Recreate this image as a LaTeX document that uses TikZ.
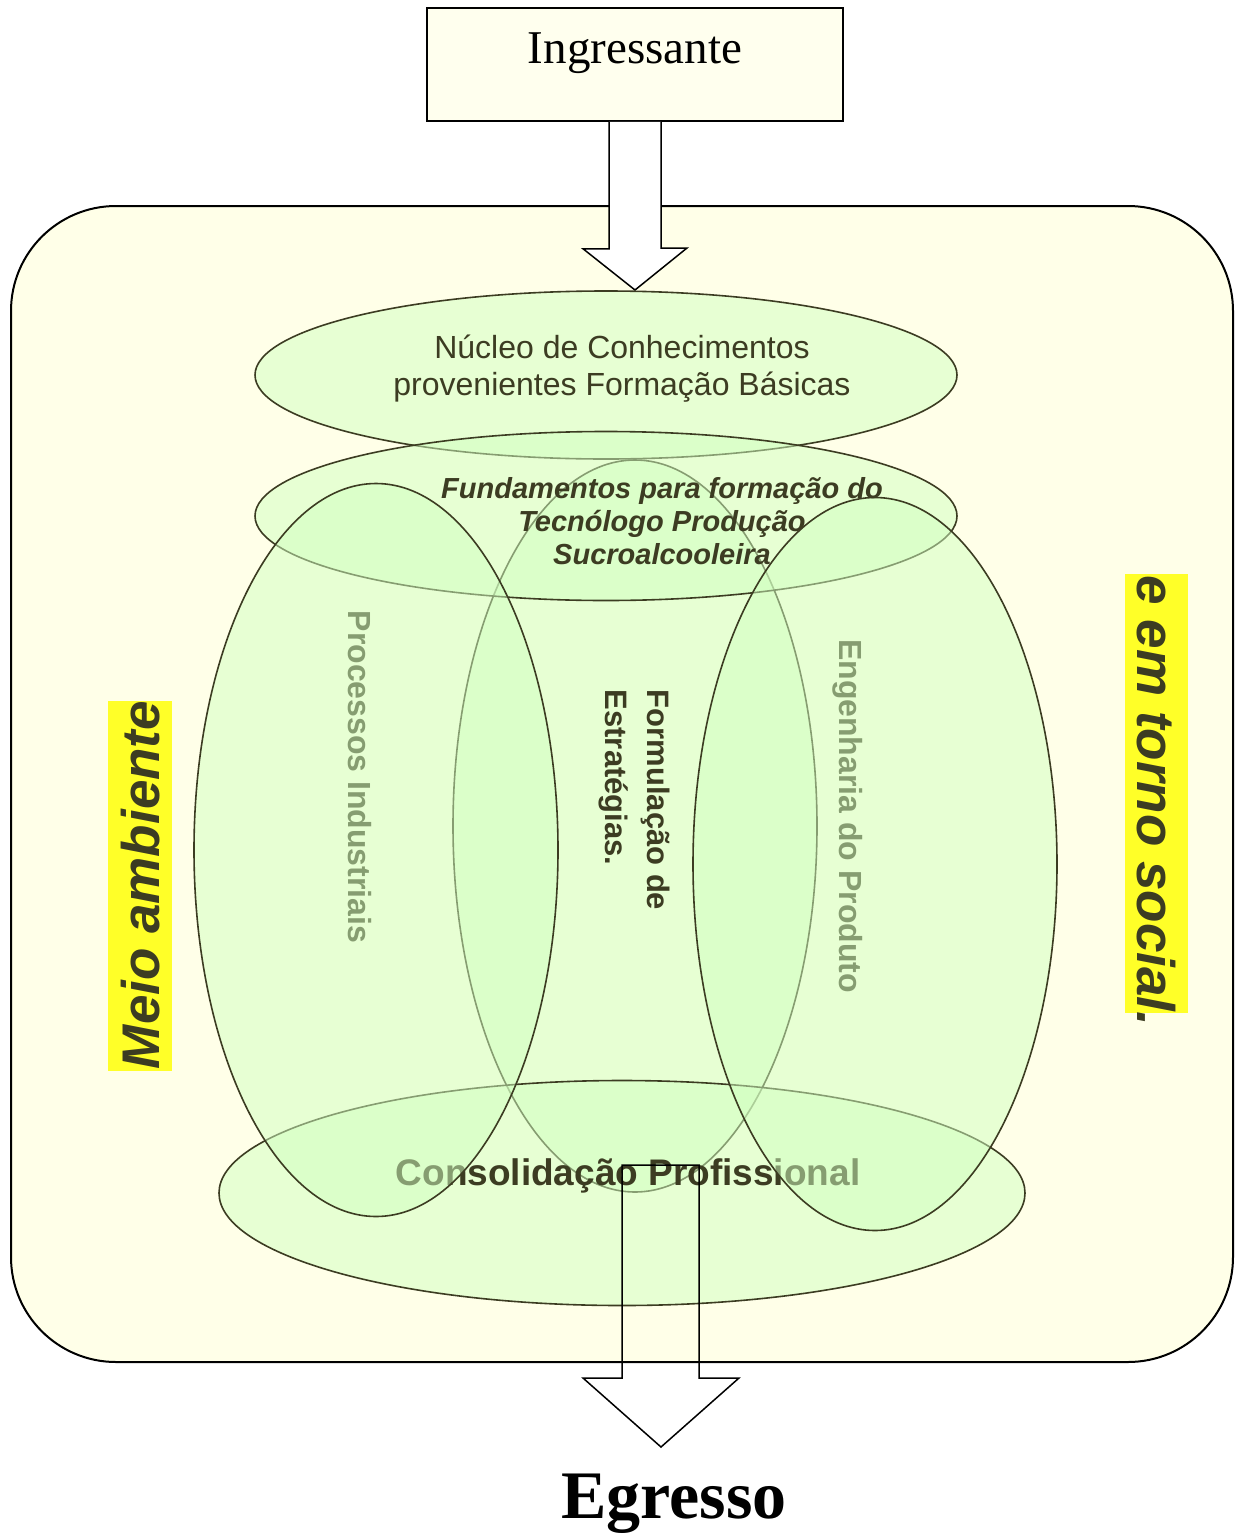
\documentclass[tikz,border=0pt]{standalone}
\usepackage{fontspec}
\setmainfont{Liberation Serif}
\newfontfamily\arial{Liberation Sans}
\usetikzlibrary{shapes.geometric}
\definecolor{bgy}{RGB}{255,255,232}
\definecolor{boxy}{RGB}{255,255,238}
\definecolor{ell}{RGB}{209,255,192}
\definecolor{dk}{RGB}{60,60,34}
\definecolor{hl}{RGB}{255,255,40}
\begin{document}
\begin{tikzpicture}[x=1pt,y=-1pt,
  blob/.style={ellipse, draw=dk, line width=1.6pt, fill=ell, fill opacity=0.5, draw opacity=1, inner sep=0pt},
  lbl/.style={text=dk, inner sep=0pt, align=center},
  hlbox/.style={fill=hl, draw=none}]
\useasboundingbox (0,0) rectangle (1237,1539);
% frame
\node[draw=black, line width=2pt, fill=bgy, rounded corners=105pt, minimum width=1222pt, minimum height=1156pt] (frame) at (622,784) {};
% Ingressante
\node[draw=black, line width=1.5pt, fill=boxy, minimum width=416pt, minimum height=113pt] (ing) at (635,64.5) {};
\node[anchor=base, inner sep=0pt, font=\fontsize{47}{50}\selectfont] (ingt) at (635,63) {Ingressante};
% top arrow
\draw[fill=white, line width=1.5pt] ([xshift=-26pt]ing.south) -- ++(0,127) -- ++(-26,0) coordinate (ah1) -- (635,290) coordinate (tip1) -- (687,248) -- ++(-26,0) -- ([xshift=26pt]ing.south);
% ellipses
\node[blob, minimum width=702pt, minimum height=168pt] (nucleo) at (606,375) {};
\node[blob, minimum width=364pt, minimum height=732pt] (mid) at (635,826) {};
\node[blob, minimum width=702pt, minimum height=169pt] (fund) at (606,516) {};
\node[blob, minimum width=806pt, minimum height=225pt] (cons) at (622,1193) {};
% texts under side ellipses
\node[lbl, font=\arial\bfseries\fontsize{37}{40}\selectfont] (const) at (628,1176) {Consolidação Profissional};
\node[lbl, rotate=-90, font=\arial\bfseries\fontsize{32}{36}\selectfont] (proc) at (360,777) {Processos Industriais};
\node[lbl, rotate=-90, font=\arial\bfseries\fontsize{32}{36}\selectfont] (eng) at (848,816) {Engenharia do Produto};
% side ellipses
\node[blob, minimum width=364pt, minimum height=733pt] (left) at (376,850) {};
\node[blob, minimum width=364pt, minimum height=733pt] (right) at (875,864) {};
% top texts
\node[lbl, font=\arial\fontsize{32}{37}\selectfont] (nucleot) at (622,369) {Núcleo de Conhecimentos\\provenientes Formação Básicas};
\node[lbl, font=\arial\bfseries\itshape\fontsize{29}{33}\selectfont] (fundt) at (662,521) {Fundamentos para formação do\\Tecnólogo Produção\\Sucroalcooleira};
\node[lbl, align=left, rotate=-90, font=\arial\bfseries\fontsize{31}{42}\selectfont] (form) at (634,800) {Formulação de\\Estratégias.};
% bottom arrow
\draw[line width=1.5pt] (622,1378) -- (622,1165) -- (699,1165) -- (699,1378) -- (739,1378) -- (661,1447) coordinate (tip2) -- (583,1378) -- cycle;
% side labels
\fill[hl] (108,701) rectangle (172,1071);
\node[lbl, rotate=90, font=\arial\bfseries\itshape\fontsize{53}{56}\selectfont] (meio) at (141,885) {Meio ambiente};
\fill[hl] (1125,574) rectangle (1188,1013);
\node[lbl, rotate=-90, font=\arial\bfseries\itshape\fontsize{53}{56}\selectfont] (social) at (1156,801) {e em torno social.};
% Egresso
\node[anchor=base, inner sep=0pt, font=\bfseries\fontsize{68}{70}\selectfont] (egr) at (674,1518) {Egresso};
\end{tikzpicture}
\end{document}
